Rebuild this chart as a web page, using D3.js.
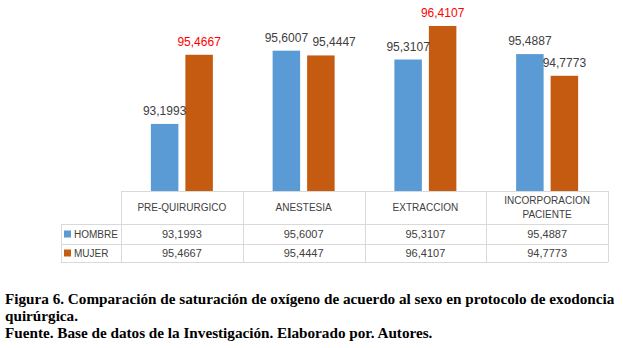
<!DOCTYPE html>
<html><head><meta charset="utf-8">
<script src="https://cdn.jsdelivr.net/npm/d3@7"></script>
<style>
html,body{margin:0;padding:0;background:#fff;}
svg{display:block;}
</style></head>
<body>
<svg id="chart" width="623" height="348"></svg>
<script>
// ---- data ----
const categories = ["PRE-QUIRURGICO", "ANESTESIA", "EXTRACCION", "INCORPORACION PACIENTE"];
const categoryLines = [["PRE-QUIRURGICO"], ["ANESTESIA"], ["EXTRACCION"], ["INCORPORACION", "PACIENTE"]];
const seriesNames = ["HOMBRE", "MUJER"];
const hombre = [93.1993, 95.6007, 95.3107, 95.4887];
const mujer = [95.4667, 95.4447, 96.4107, 94.7773];
const highlighted = [["PRE-QUIRURGICO", "MUJER"], ["EXTRACCION", "MUJER"]];
const captionLines = [
  "Figura 6. Comparación de saturación de oxígeno de acuerdo al sexo en protocolo de exodoncia",
  "quirúrgica.",
  "Fuente. Base de datos de la Investigación. Elaborado por. Autores."
];

const colors = {HOMBRE: "#5B9BD5", MUJER: "#C55A11"};
const seriesValues = {HOMBRE: hombre, MUJER: mujer};
const fmt = v => d3.format(".4f")(v).replace(".", ",");

const svg = d3.select("#chart");
const tableLeft = 121, tableRight = 608, legendLeft = 61;
const baseY = 191, headerBottom = 224, row1Bottom = 244, row2Bottom = 262;

const x = d3.scaleBand().domain(categories).range([tableLeft, tableRight]).padding(0);
const xs = d3.scaleBand().domain(seriesNames).range([0, x.bandwidth()])
  .paddingInner(0.203).paddingOuter(0.866);
const y = d3.scaleLinear().domain([91, 97]).range([baseY, 8]);

// bars
const barData = [];
categories.forEach((c, i) => seriesNames.forEach(s => barData.push({c, s, v: seriesValues[s][i]})));
svg.append("g").selectAll("rect").data(barData).join("rect")
  .attr("x", d => x(d.c) + xs(d.s))
  .attr("y", d => y(d.v))
  .attr("width", xs.bandwidth())
  .attr("height", d => baseY - y(d.v))
  .attr("fill", d => colors[d.s]);

// value labels with simple collision avoidance
const isHi = d => highlighted.some(h => h[0] === d.c && h[1] === d.s);
const lg = svg.append("g").attr("font-family", "Liberation Sans, Arial, sans-serif").attr("font-size", 12);
categories.forEach(c => {
  let prev = null;
  seriesNames.forEach(s => {
    const d = barData.find(b => b.c === c && b.s === s);
    const t = lg.append("text")
      .attr("x", x(c) + xs(s) + xs.bandwidth() / 2)
      .attr("y", y(d.v) - 9)
      .attr("text-anchor", "middle")
      .attr("fill", isHi(d) ? "#FF0000" : "#404040")
      .text(fmt(d.v));
    const bb = t.node().getBBox();
    if (prev) {
      const vOverlap = bb.y < prev.y + prev.height && prev.y < bb.y + bb.height;
      const hOverlap = bb.x < prev.x + prev.width + 4;
      if (vOverlap && hOverlap) {
        const shift = prev.x + prev.width + 4 - bb.x;
        t.attr("x", +t.attr("x") + shift);
      }
    }
    prev = t.node().getBBox();
  });
});

// table grid
const grid = svg.append("g").attr("stroke", "#D9D9D9").attr("stroke-width", 1).attr("shape-rendering", "crispEdges");
grid.append("line").attr("x1", tableLeft).attr("x2", tableRight).attr("y1", baseY + 0.5).attr("y2", baseY + 0.5);
[headerBottom, row1Bottom, row2Bottom].forEach(yy =>
  grid.append("line").attr("x1", legendLeft).attr("x2", tableRight).attr("y1", yy + 0.5).attr("y2", yy + 0.5));
grid.append("line").attr("x1", legendLeft + 0.5).attr("x2", legendLeft + 0.5).attr("y1", headerBottom).attr("y2", row2Bottom);
categories.forEach(c => grid.append("line").attr("x1", x(c) + 0.5).attr("x2", x(c) + 0.5).attr("y1", baseY).attr("y2", row2Bottom));
grid.append("line").attr("x1", tableRight + 0.5).attr("x2", tableRight + 0.5).attr("y1", baseY).attr("y2", row2Bottom);

// header text
const tg = svg.append("g").attr("font-family", "Liberation Sans, Arial, sans-serif").attr("fill", "#404040");
categories.forEach((c, i) => {
  const lines = categoryLines[i];
  const cy = (baseY + headerBottom) / 2;
  const lh = 14;
  lines.forEach((ln, j) => {
    tg.append("text")
      .attr("x", x(c) + x.bandwidth() / 2)
      .attr("y", cy + (j - (lines.length - 1) / 2) * lh)
      .attr("dy", "0.36em")
      .attr("text-anchor", "middle")
      .attr("font-size", 10)
      .text(ln);
  });
});

// rows
const rowMid = [(headerBottom + row1Bottom) / 2, (row1Bottom + row2Bottom) / 2];
seriesNames.forEach((s, r) => {
  svg.append("rect").attr("x", legendLeft + 3).attr("y", rowMid[r] - 3.5).attr("width", 7).attr("height", 7).attr("fill", colors[s]);
  tg.append("text").attr("x", legendLeft + 13).attr("y", rowMid[r]).attr("dy", "0.36em")
    .attr("font-size", 10).text(s);
  categories.forEach((c, i) => {
    tg.append("text").attr("x", x(c) + x.bandwidth() / 2).attr("y", rowMid[r]).attr("dy", "0.36em")
      .attr("text-anchor", "middle").attr("font-size", 11).text(fmt(seriesValues[s][i]));
  });
});

// caption
const cap = svg.append("g").attr("font-family", "Liberation Serif, Times New Roman, serif")
  .attr("font-weight", "bold").attr("font-size", 15.2).attr("fill", "#000");
const capBase = [304, 321, 338];
captionLines.forEach((t, i) => cap.append("text").attr("x", 5).attr("y", capBase[i]).text(t));
</script>
</body></html>
